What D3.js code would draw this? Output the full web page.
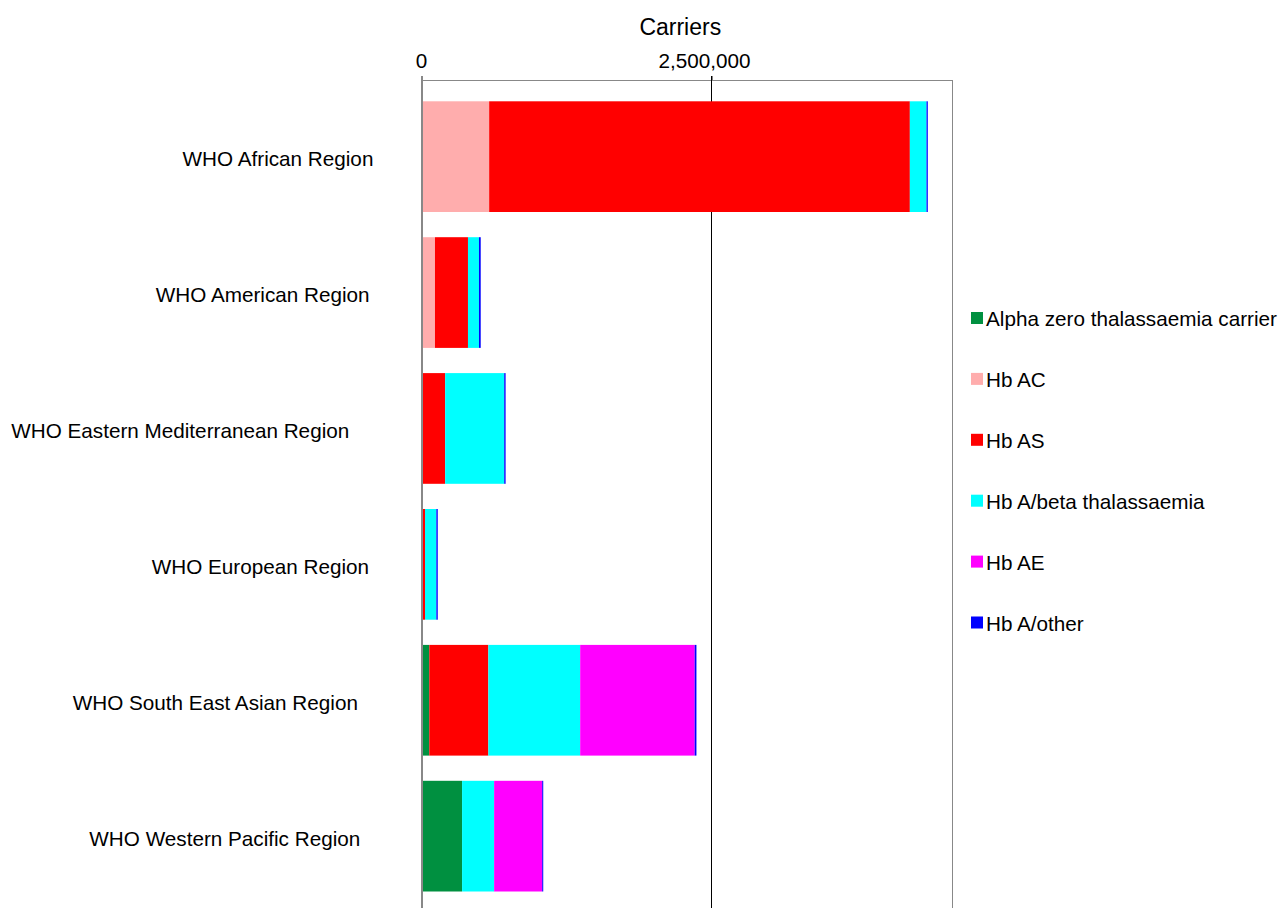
<!DOCTYPE html>
<html>
<head>
<meta charset="utf-8">
<script src="https://cdn.jsdelivr.net/npm/d3@7"></script>
<style>
  html, body { margin: 0; padding: 0; background: #fff; }
  svg { display: block; }
  text { font-family: "Liberation Sans", Arial, sans-serif; fill: #000; }
</style>
</head>
<body>
<svg id="chart" width="1280" height="908"></svg>
<script>
// ---- data ----
const categories = [
  "WHO African Region",
  "WHO American Region",
  "WHO Eastern Mediterranean Region",
  "WHO European Region",
  "WHO South East Asian Region",
  "WHO Western Pacific Region"
];
const seriesNames = [
  "Alpha zero thalassaemia carrier",
  "Hb AC",
  "Hb AS",
  "Hb A/beta thalassaemia",
  "Hb AE",
  "Hb A/other"
];
const alphaZero = [0, 0, 0, 0, 63000, 346000];
const hbAC      = [580000, 112000, 0, 0, 0, 0];
const hbAS      = [3633000, 285000, 200000, 26000, 510000, 0];
const hbBeta    = [144000, 95000, 510000, 98000, 793000, 277000];
const hbAE      = [0, 0, 0, 0, 989000, 415000];
const hbOther   = [11000, 15000, 12000, 12000, 15000, 9000];
const seriesColors = ["#009040", "#FFADAD", "#FF0000", "#00FFFF", "#FF00FF", "#0000FF"];
const xTicks = [0, 2500000];
const xMax = 4577000;
const axisTitle = "Carriers";

// ---- layout ----
const K = 1.164; // text layout width factor seen in the original
const svg = d3.select("#chart");
const plotLeft = 422, plotRight = 952, plotTop = 80, plotBottom = 930;

const x = d3.scaleLinear().domain([0, xMax]).range([plotLeft, plotRight]);
const step = 135.9, barH = 110.7;
const y0 = 101.3 - (step - barH) / 2;
const y = d3.scaleBand().domain(categories)
  .range([y0, y0 + step * categories.length])
  .paddingInner((step - barH) / step)
  .paddingOuter((step - barH) / step / 2);

const seriesArrays = [alphaZero, hbAC, hbAS, hbBeta, hbAE, hbOther];
const rows = categories.map((c, i) => {
  const r = { category: c };
  seriesNames.forEach((s, j) => r[s] = seriesArrays[j][i]);
  return r;
});
const stacked = d3.stack().keys(seriesNames)(rows);
const color = d3.scaleOrdinal().domain(seriesNames).range(seriesColors);

// frame
const frame = svg.append("g");
frame.append("line").attr("x1", plotLeft).attr("x2", plotRight).attr("y1", plotTop + 0.5).attr("y2", plotTop + 0.5)
  .attr("stroke", "#888").attr("stroke-width", 1);
frame.append("line").attr("x1", plotRight + 0.5).attr("x2", plotRight + 0.5).attr("y1", plotTop).attr("y2", plotBottom)
  .attr("stroke", "#888").attr("stroke-width", 1);

// gridlines
svg.append("g").selectAll("line").data(xTicks.filter(d => d > 0)).join("line")
  .attr("x1", d => Math.round(x(d)) + 0.5).attr("x2", d => Math.round(x(d)) + 0.5)
  .attr("y1", plotTop - 4).attr("y2", plotBottom)
  .attr("stroke", "#000").attr("stroke-width", 1);

// bars
svg.append("g").selectAll("g").data(stacked).join("g")
  .attr("fill", d => color(d.key))
  .selectAll("rect").data(d => d).join("rect")
  .attr("x", d => x(d[0]))
  .attr("width", d => Math.max(0, x(d[1]) - x(d[0])))
  .attr("y", d => y(d.data.category))
  .attr("height", y.bandwidth());

// left axis line
svg.append("line").attr("x1", plotLeft).attr("x2", plotLeft).attr("y1", plotTop - 4).attr("y2", plotBottom)
  .attr("stroke", "#888").attr("stroke-width", 2);

// top axis
const axis = d3.axisTop(x).tickValues(xTicks).tickFormat(d3.format(",")).tickSize(4).tickPadding(12);
const ax = svg.append("g").attr("transform", `translate(0,${plotTop})`).call(axis);
ax.select(".domain").remove();
ax.selectAll(".tick line").attr("stroke", (d) => d === 0 ? "#888" : "#000");
ax.selectAll(".tick text")
  .attr("font-size", "20.7px").attr("font-family", "Liberation Sans, Arial, sans-serif")
  .attr("fill", "#000")
  .attr("text-anchor", "start")
  .attr("y", 68 - plotTop).attr("dy", 0)
  .each(function () {
    const w = this.getComputedTextLength();
    d3.select(this).attr("x", -K * w / 2);
  });

// axis title
const title = svg.append("text").text(axisTitle)
  .attr("font-size", "23px").attr("y", 35).attr("text-anchor", "start");
{
  const w = title.node().getComputedTextLength();
  title.attr("x", (plotLeft + plotRight) / 2 - K * w / 2);
}

// category labels
const labelRight = 404.7;
svg.append("g").selectAll("text").data(categories).join("text")
  .text(d => d)
  .attr("font-size", "20.7px")
  .attr("y", d => y(d) + y.bandwidth() / 2 + 9.4)
  .attr("text-anchor", "start")
  .each(function () {
    const w = this.getComputedTextLength();
    d3.select(this).attr("x", labelRight - K * w);
  });

// legend
const legend = svg.append("g");
const legTop = 318, legStep = 60.9;
const li = legend.selectAll("g").data(seriesNames).join("g")
  .attr("transform", (d, i) => `translate(0,${legTop + i * legStep})`);
li.append("rect").attr("x", 971).attr("y", -6).attr("width", 12).attr("height", 12)
  .attr("fill", d => color(d));
li.append("text").text(d => d).attr("x", 986).attr("y", 8).attr("font-size", "20.7px");
</script>
</body>
</html>
